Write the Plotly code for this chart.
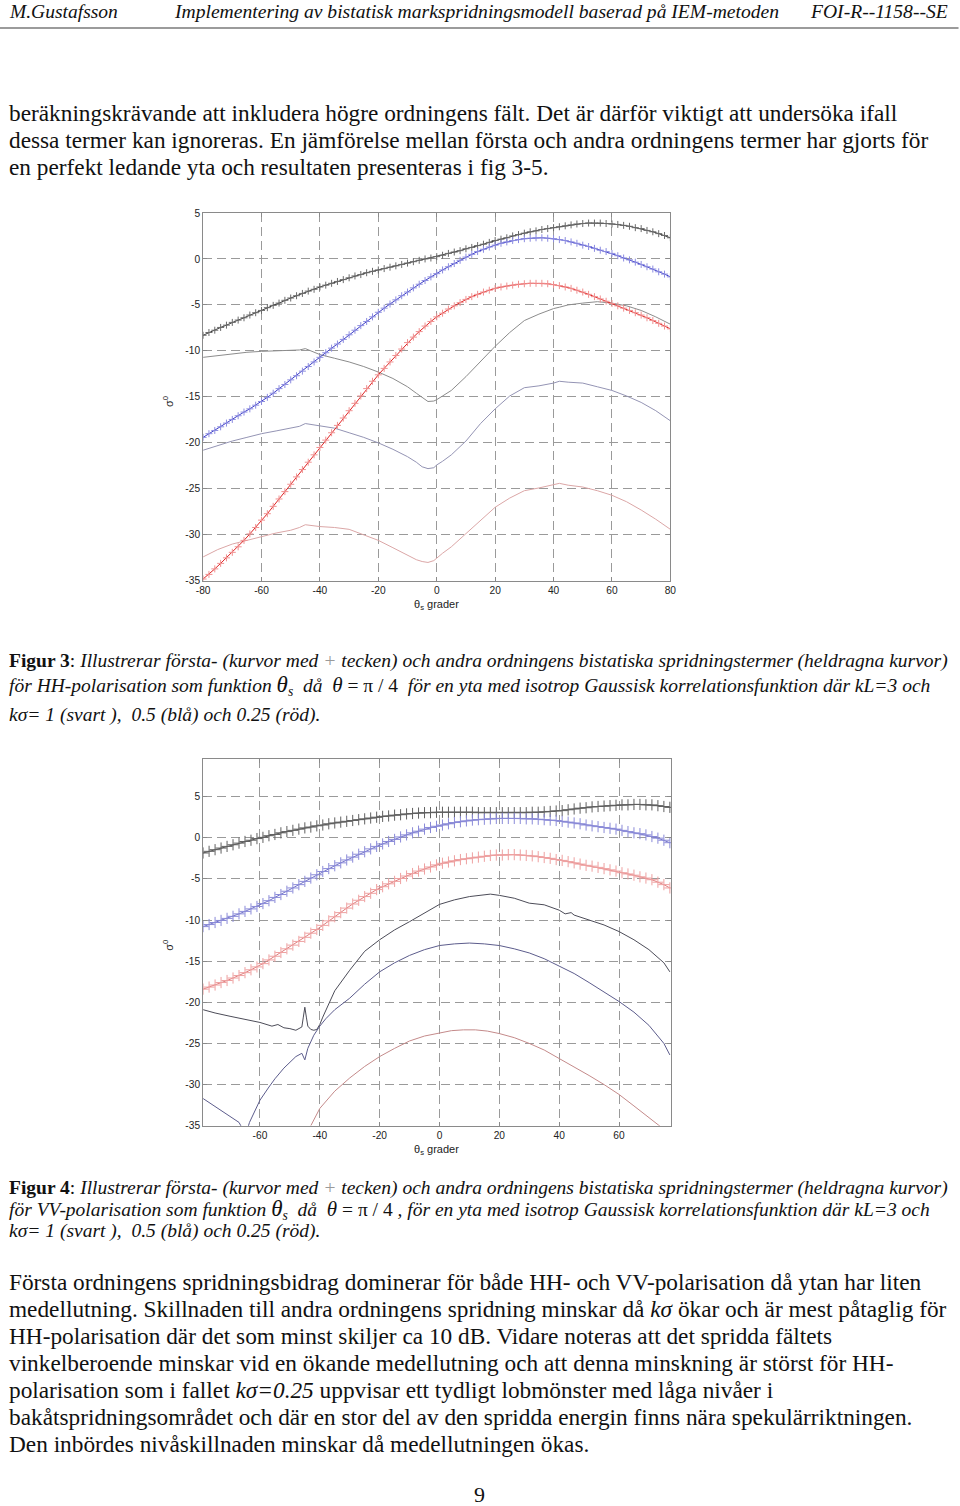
import plotly.graph_objects as go

# ---------------- data: HH (Figur 3) ----------------
theta_hh = [-80,-78,-76,-74,-72,-70,-68,-66,-64,-62,-60,-58,-56,-54,-52,-50,-48,-46,-44,-42,
            -40,-38,-36,-34,-32,-30,-28,-26,-24,-22,-20,-18,-16,-14,-12,-10,-8,-6,-4,-2,
            0,2,4,6,8,10,12,14,16,18,20,22,24,26,28,30,32,34,36,38,
            40,42,44,46,48,50,52,54,56,58,60,62,64,66,68,70,72,74,76,78,80]
hh_first_black = [-8.3,-8.0,-7.75,-7.45,-7.2,-6.9,-6.65,-6.4,-6.1,-5.85,
                  -5.6,-5.3,-5.05,-4.8,-4.5,-4.25,-4.0,-3.75,-3.5,-3.3,
                  -3.05,-2.85,-2.65,-2.45,-2.25,-2.05,-1.85,-1.7,-1.5,-1.35,
                  -1.2,-1.05,-0.9,-0.75,-0.6,-0.45,-0.3,-0.15,0.0,0.1,
                  0.25,0.4,0.6,0.75,0.9,1.1,1.25,1.45,1.6,1.8,
                  2.0,2.15,2.3,2.5,2.65,2.8,2.95,3.05,3.2,3.3,
                  3.4,3.5,3.6,3.7,3.8,3.85,3.9,3.9,3.9,3.85,
                  3.8,3.75,3.65,3.55,3.4,3.3,3.1,2.95,2.75,2.55,
                  2.3]
hh_first_blue = [-19.4,-19.0,-18.65,-18.25,-17.85,-17.45,-17.05,-16.65,-16.3,-15.9,
                 -15.5,-15.05,-14.6,-14.1,-13.65,-13.15,-12.7,-12.2,-11.7,-11.2,
                 -10.7,-10.2,-9.7,-9.25,-8.75,-8.25,-7.75,-7.25,-6.8,-6.3,
                 -5.8,-5.35,-4.9,-4.45,-4.0,-3.6,-3.15,-2.75,-2.35,-1.95,
                 -1.6,-1.2,-0.85,-0.5,-0.15,0.2,0.5,0.8,1.05,1.3,
                 1.5,1.7,1.85,2.0,2.1,2.2,2.25,2.3,2.3,2.25,
                 2.2,2.1,2.0,1.85,1.7,1.5,1.35,1.15,0.95,0.8,
                 0.6,0.35,0.1,-0.1,-0.35,-0.6,-0.85,-1.1,-1.4,-1.65,
                 -1.95]
hh_first_red = [-34.8,-34.3,-33.7,-33.1,-32.5,-31.9,-31.3,-30.6,-29.9,-29.2,
                -28.4,-27.7,-26.9,-26.1,-25.3,-24.5,-23.7,-22.9,-22.1,-21.3,
                -20.5,-19.7,-18.9,-18.1,-17.3,-16.5,-15.7,-14.9,-14.1,-13.3,
                -12.6,-11.9,-11.2,-10.5,-9.8,-9.1,-8.5,-7.9,-7.3,-6.8,
                -6.3,-5.9,-5.45,-5.1,-4.75,-4.4,-4.1,-3.85,-3.6,-3.4,
                -3.2,-3.05,-2.95,-2.85,-2.75,-2.7,-2.65,-2.65,-2.65,-2.7,
                -2.8,-2.9,-3.05,-3.2,-3.4,-3.6,-3.85,-4.1,-4.35,-4.6,
                -4.85,-5.1,-5.35,-5.6,-5.85,-6.1,-6.4,-6.7,-7.0,-7.3,
                -7.6]
theta_hh2 = [-80,-75,-70,-65,-60,-55,-50,-47,-45,-43,-40,-35,-30,-25,-20,-15,-10,-7,-5,-3,
             -1,0,2,5,10,15,20,25,30,35,40,42,45,50,55,60,65,70,75,80]
hh_second_black = [-10.7,-10.5,-10.3,-10.15,-10.05,-10.0,-9.95,-9.9,-9.75,-10.0,
                   -10.4,-10.8,-11.2,-11.7,-12.3,-13.0,-13.9,-14.6,-15.1,-15.5,
                   -15.45,-15.3,-14.9,-14.3,-12.8,-11.1,-9.5,-8.0,-6.7,-6.0,
                   -5.4,-5.25,-5.0,-4.8,-4.65,-4.8,-5.1,-5.6,-6.3,-7.1]
hh_second_blue = [-20.8,-20.3,-19.8,-19.4,-19.0,-18.7,-18.4,-18.2,-17.9,-18.0,
                  -18.1,-18.4,-18.9,-19.4,-20.0,-20.7,-21.5,-22.1,-22.6,-22.8,
                  -22.7,-22.4,-22.0,-21.3,-19.8,-17.9,-16.3,-14.9,-14.0,-13.8,
                  -13.5,-13.3,-13.4,-13.5,-13.9,-14.3,-14.9,-15.6,-16.5,-17.6]
hh_second_red = [-32.4,-31.6,-31.0,-30.6,-30.2,-29.8,-29.5,-29.2,-28.9,-29.0,
                 -29.1,-29.2,-29.4,-30.0,-30.6,-31.4,-32.2,-32.7,-32.9,-33.0,
                 -32.8,-32.5,-32.0,-31.3,-29.9,-28.4,-27.0,-26.0,-25.2,-24.9,
                 -24.6,-24.4,-24.6,-24.8,-25.2,-25.7,-26.4,-27.3,-28.3,-29.4]

# ---------------- data: VV (Figur 4) ----------------
theta_vv = [-79,-77,-75,-73,-71,-69,-67,-65,-63,-61,-59,-57,-55,-53,-51,-49,-47,-45,-43,-41,
            -39,-37,-35,-33,-31,-29,-27,-25,-23,-21,-19,-17,-15,-13,-11,-9,-7,-5,-3,-1,
            1,3,5,7,9,11,13,15,17,19,21,23,25,27,29,31,33,35,37,39,
            41,43,45,47,49,51,53,55,57,59,61,63,65,67,69,71,73,75,77]
vv_first_black = [-1.85,-1.65,-1.45,-1.25,-1.05,-0.85,-0.65,-0.45,-0.3,-0.1,
                  0.05,0.25,0.4,0.6,0.75,0.9,1.05,1.2,1.3,1.45,
                  1.55,1.7,1.8,1.9,2.0,2.1,2.2,2.3,2.4,2.5,
                  2.6,2.65,2.75,2.8,2.9,2.95,3.0,3.05,3.05,3.1,
                  3.1,3.1,3.1,3.1,3.1,3.1,3.05,3.05,3.05,3.05,
                  3.05,3.05,3.05,3.05,3.05,3.1,3.1,3.15,3.2,3.25,
                  3.3,3.4,3.5,3.6,3.65,3.75,3.8,3.85,3.9,3.95,
                  4.0,4.0,4.05,4.05,4.0,4.0,3.9,3.8,3.7]
vv_first_blue = [-10.8,-10.55,-10.3,-10.05,-9.8,-9.55,-9.25,-8.95,-8.65,-8.35,
                 -8.0,-7.65,-7.25,-6.9,-6.5,-6.1,-5.7,-5.3,-4.9,-4.5,
                 -4.1,-3.75,-3.4,-3.05,-2.7,-2.35,-2.0,-1.7,-1.35,-1.05,
                 -0.75,-0.45,-0.2,0.1,0.35,0.6,0.8,1.05,1.25,1.4,
                 1.55,1.7,1.85,1.95,2.05,2.15,2.2,2.25,2.3,2.35,
                 2.35,2.35,2.35,2.35,2.3,2.3,2.25,2.2,2.15,2.1,
                 2.0,1.9,1.8,1.7,1.55,1.45,1.35,1.25,1.15,1.05,
                 0.9,0.75,0.6,0.5,0.35,0.15,-0.05,-0.3,-0.6]
vv_first_red = [-18.4,-18.15,-17.9,-17.6,-17.35,-17.05,-16.75,-16.4,-16.05,-15.7,
                -15.3,-14.85,-14.4,-13.95,-13.5,-13.05,-12.6,-12.1,-11.6,-11.15,
                -10.65,-10.1,-9.6,-9.1,-8.55,-8.05,-7.6,-7.15,-6.75,-6.3,
                -5.95,-5.6,-5.3,-4.95,-4.65,-4.35,-4.05,-3.8,-3.55,-3.3,
                -3.1,-2.95,-2.8,-2.65,-2.55,-2.45,-2.35,-2.25,-2.15,-2.1,
                -2.1,-2.05,-2.05,-2.1,-2.15,-2.2,-2.3,-2.4,-2.5,-2.65,
                -2.75,-2.9,-3.05,-3.2,-3.35,-3.45,-3.6,-3.75,-3.9,-4.05,
                -4.25,-4.4,-4.55,-4.75,-4.9,-5.1,-5.4,-5.7,-6.1]
theta_vv2_black = [-79,-75,-70,-65,-60,-56,-54,-52,-50,-48,-46,-45.5,-45,-44.5,-44,-43,-42,-41,-40,-39,
                   -38,-35,-30,-25,-20,-15,-10,-5,0,5,10,17,20,25,30,35,40,42,44,45,
                   50,55,60,65,70,75,77]
vv_second_black = [-20.9,-21.3,-21.7,-22.1,-22.45,-22.9,-22.7,-23.1,-23.2,-23.4,-23.0,-21.8,-20.6,-21.8,-22.9,-23.3,-23.4,-23.3,-22.7,-21.8,
                   -21.0,-18.6,-16.1,-13.8,-12.4,-11.2,-10.2,-9.2,-8.1,-7.55,-7.15,-6.85,-7.0,-7.35,-7.95,-8.15,-8.8,-9.25,-9.1,-9.4,
                   -10.0,-10.6,-11.4,-12.4,-13.6,-15.2,-16.3]
theta_vv2_blue = [-79,-75,-70,-67,-65.5,-64.5,-63.5,-62,-60,-57,-55,-52,-50,-48,-46,-45,-44,-43,-42,-40,
                  -38,-35,-30,-25,-20,-15,-10,-5,0,5,10,15,20,25,30,35,40,45,50,55,
                  60,65,70,75,77]
vv_second_blue = [-31.7,-32.7,-33.9,-34.6,-35.6,-35.8,-34.6,-33.5,-31.9,-30.3,-29.3,-28.0,-27.3,-26.6,-26.2,-27.0,-25.6,-24.8,-24.0,-22.9,
                  -22.0,-20.9,-19.5,-17.8,-16.3,-15.2,-14.3,-13.6,-13.1,-12.9,-12.8,-12.9,-13.1,-13.5,-14.0,-14.7,-15.6,-16.5,-17.6,-18.7,
                  -19.9,-21.2,-22.8,-25.0,-26.4]
theta_vv2_red = [-43,-40,-35,-30,-25,-20,-15,-10,-5,0,4,8,12,16,20,25,30,35,40,45,50,55,60,65,70,74,77]
vv_second_red = [-35.0,-32.9,-30.8,-29.2,-27.8,-26.6,-25.6,-24.7,-24.1,-23.7,-23.45,-23.35,-23.35,-23.5,-23.8,-24.3,
                 -25.0,-25.8,-26.8,-27.8,-28.9,-30.0,-31.2,-32.6,-34.0,-35.1,-36.0]

x_ticks_hh = [-80, -60, -40, -20, 0, 20, 40, 60, 80]
x_ticks_vv = [-60, -40, -20, 0, 20, 40, 60]
y_ticks = [-35, -30, -25, -20, -15, -10, -5, 0, 5]

# ---------------- text ----------------
header_left = "M.Gustafsson"
header_mid = "Implementering av bistatisk markspridningsmodell baserad på IEM-metoden"
header_right = "FOI-R--1158--SE"
para1 = ["beräkningskrävande att inkludera högre ordningens fält. Det är därför viktigt att undersöka ifall",
         "dessa termer kan ignoreras. En jämförelse mellan första och andra ordningens termer har gjorts för",
         "en perfekt ledande yta och resultaten presenteras i fig 3-5."]
plus = "<span style='color:#9a9a9a'>+</span>"
cap3 = ["<b>Figur 3</b>: <i>Illustrerar första- (kurvor med " + plus + " tecken) och andra ordningens bistatiska spridningstermer (heldragna kurvor)</i>",
        "<i>för HH-polarisation som funktion <span style='font-size:23px'>θ</span><sub>s</sub>  då  <span style='font-size:21px'>θ</span></i> = π / 4 <i> för en yta med isotrop Gaussisk korrelationsfunktion där kL=3 och</i>",
        "<i>kσ= 1 (svart ),  0.5 (blå) och 0.25 (röd).</i>"]
cap4 = ["<b>Figur 4</b>: <i>Illustrerar första- (kurvor med " + plus + " tecken) och andra ordningens bistatiska spridningstermer (heldragna kurvor)</i>",
        "<i>för VV-polarisation som funktion <span style='font-size:23px'>θ</span><sub>s</sub>  då  <span style='font-size:21px'>θ</span></i> = π / 4 <i>, för en yta med isotrop Gaussisk korrelationsfunktion där kL=3 och</i>",
        "<i>kσ= 1 (svart ),  0.5 (blå) och 0.25 (röd).</i>"]
para2 = ["Första ordningens spridningsbidrag dominerar för både HH- och VV-polarisation då ytan har liten",
         "medellutning. Skillnaden till andra ordningens spridning minskar då <i>kσ</i> ökar och är mest påtaglig för",
         "HH-polarisation där det som minst skiljer ca 10 dB. Vidare noteras att det spridda fältets",
         "vinkelberoende minskar vid en ökande medellutning och att denna minskning är störst för HH-",
         "polarisation som i fallet <i>kσ=0.25</i> uppvisar ett tydligt lobmönster med låga nivåer i",
         "bakåtspridningsområdet och där en stor del av den spridda energin finns nära spekulärriktningen.",
         "Den inbördes nivåskillnaden minskar då medellutningen ökas."]
page_no = "9"

SERIF = "Liberation Serif"
SANS = "Liberation Sans"

# page -> photo mapping observed: photo = O + S * page
OX, OY = 7.0, 5.0
SX, SY = 0.986, 0.993
W, H = 966, 1512

fig = go.Figure()

def first(x, y, col, mcol, msize, xa, ya):
    fig.add_trace(go.Scatter(x=x, y=y, mode="lines+markers", xaxis=xa, yaxis=ya,
                             line=dict(color=col, width=1),
                             marker=dict(symbol="cross-thin", size=msize, color=mcol,
                                         line=dict(color=mcol, width=1)),
                             showlegend=False, hoverinfo="skip"))

def second(x, y, col, xa, ya):
    fig.add_trace(go.Scatter(x=x, y=y, mode="lines", xaxis=xa, yaxis=ya,
                             line=dict(color=col, width=1), showlegend=False, hoverinfo="skip"))

# top chart (HH)
second(theta_hh2, hh_second_black, "#8c8c8c", "x", "y")
second(theta_hh2, hh_second_blue, "#9494b4", "x", "y")
second(theta_hh2, hh_second_red, "#dba6a6", "x", "y")
first(theta_hh, hh_first_black, "#3a3a3a", "#6a6a6a", 5, "x", "y")
first(theta_hh, hh_first_blue, "#3c3cc8", "#8c8ce0", 5, "x", "y")
first(theta_hh, hh_first_red, "#e02424", "#f09090", 5, "x", "y")

# bottom chart (VV)
second(theta_vv2_black, vv_second_black, "#4c4c58", "x2", "y2")
second(theta_vv2_blue, vv_second_blue, "#5c5c8c", "x2", "y2")
second(theta_vv2_red, vv_second_red, "#c48a8a", "x2", "y2")
first(theta_vv, vv_first_black, "#505050", "#606060", 8, "x2", "y2")
first(theta_vv, vv_first_blue, "#7070c8", "#8a8ad8", 8, "x2", "y2")
first(theta_vv, vv_first_red, "#e07a7a", "#eea0a0", 8, "x2", "y2")

def fx(px):
    return ((px - OX) / SX) / W

def fy(py):
    return 1 - ((py - OY) / SY) / H

axis_common = dict(showline=True, linecolor="#8a8a8a", linewidth=1, mirror="ticks",
                   ticks="inside", ticklen=4, tickcolor="#8a8a8a",
                   showgrid=True, gridcolor="#9a9a9a", griddash="9px,5px", gridwidth=1,
                   zeroline=False, tickfont=dict(family=SANS, size=10.2, color="#222"))

fig.update_layout(
    width=W, height=H, margin=dict(l=0, r=0, t=0, b=0),
    paper_bgcolor="white", plot_bgcolor="white",
    xaxis=dict(domain=[fx(203), fx(670)], range=[-80, 80], tickvals=x_ticks_hh,
               ticktext=[str(v) for v in x_ticks_hh], anchor="y", **axis_common),
    yaxis=dict(domain=[fy(581), fy(213)], range=[-35, 5], tickvals=y_ticks,
               ticktext=[str(v) for v in y_ticks], anchor="x", **axis_common),
    xaxis2=dict(domain=[fx(203), fx(671)], range=[-79, 77.5], tickvals=x_ticks_vv,
                ticktext=[str(v) for v in x_ticks_vv], anchor="y2", **axis_common),
    yaxis2=dict(domain=[fy(1126), fy(759)], range=[-35, 9.6], tickvals=y_ticks,
                ticktext=[str(v) for v in y_ticks], anchor="x2", **axis_common),
)

ann = []

def text(px, py, s, size, family=SERIF, anchor="left", color="#111"):
    ann.append(dict(x=fx(px), y=fy(py), xref="paper", yref="paper", text=s, showarrow=False,
                    xanchor=anchor, yanchor="middle", align=anchor,
                    font=dict(family=family, size=size, color=color)))

LX = 7
# header
text(LX, 12, "<i>" + header_left + "</i>", 19.5)
text(476, 12, "<i>" + header_mid + "</i>", 19.6, anchor="center")
text(949, 12, "<i>" + header_right + "</i>", 19.6, anchor="right")

for i, s in enumerate(para1):
    text(LX, 113 + 27 * i, s, 23.3)

# axis titles
for py_ in (402, 946):
    ann.append(dict(x=fx(168), y=fy(py_), xref="paper", yref="paper", text="σ<sup>0</sup>",
                    showarrow=False, textangle=-90, xanchor="center", yanchor="middle",
                    font=dict(family=SANS, size=11, color="#222")))
text(436, 605, "θ<sub>s</sub> grader", 11, family=SANS, anchor="center", color="#222")
text(436, 1150, "θ<sub>s</sub> grader", 11, family=SANS, anchor="center", color="#222")

for s, py_ in zip(cap3, [661, 686, 715]):
    text(LX, py_, s, 19.5)
for s, py_ in zip(cap4, [1188, 1210, 1231]):
    text(LX, py_, s, 19.5)

for i, s in enumerate(para2):
    text(LX, 1282 + 27 * i, s, 23.3)

text(479, 1495, page_no, 22, anchor="center")

fig.update_layout(annotations=ann,
                  shapes=[dict(type="line", xref="paper", yref="paper", x0=fx(0), x1=fx(958),
                               y0=fy(28), y1=fy(28), line=dict(color="#7a7a7a", width=1.5))])

fig.write_html("out.html", config={"displayModeBar": False},
               post_script="document.body.style.margin='0';document.body.style.overflow='hidden';")
